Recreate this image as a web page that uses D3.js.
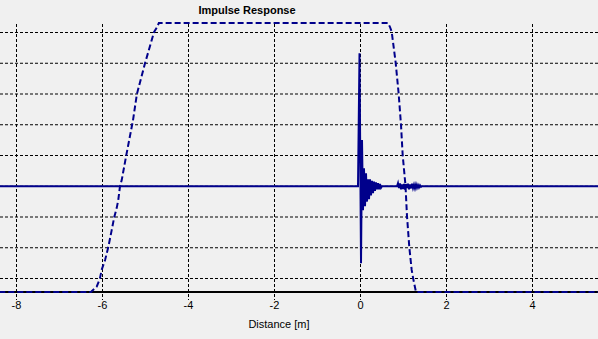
<!DOCTYPE html>
<html>
  <head>
    <meta charset="utf-8" />
    <style>
      body { margin: 0; background: #f0f0f0; }
      text { font-family: "Liberation Sans", Arial, sans-serif; }
    </style>
  </head>
  <body>

<svg id="graph"></svg>

<script src="https://d3js.org/d3.v7.min.js"></script>
<script>
const WIDTH = 598
const HEIGHT = 339

// x ticks (distance in m)
const X_TICKS = [-8, -6, -4, -2, 0, 2, 4]
// amplitude grid lines
const Y_TICKS = [-0.6, -0.4, -0.2, 0, 0.2, 0.4, 0.6, 0.8, 1.0]

// window curve (dashed), distance [m] and gain 0..1
const WIN_DIST = [-8.4, -6.27, -6.135, -6.06, -6.02, -5.94, -5.865, -5.786, -5.726, -5.67, -5.633, -5.593,
  -5.553, -5.45, -5.29, -5.2, -5.01, -4.8, -4.73, -4.69,
  0.64, 0.686, 0.726, 0.819, 0.888, 0.942, 0.981, 1.047, 1.081, 1.135, 1.19, 1.228, 1.29, 5.6]
const WIN_GAIN = [0, 0, 0.02, 0.05, 0.082, 0.119, 0.167, 0.23, 0.279, 0.312, 0.342, 0.394,
  0.416, 0.506, 0.639, 0.736, 0.851, 0.967, 0.985, 1,
  1, 0.985, 0.967, 0.851, 0.736, 0.621, 0.509, 0.394, 0.283, 0.167, 0.082, 0.048, 0, 0]

// impulse response samples
const IR_DIST = [-8.4, -0.058, -0.023, 0.012, 0.035, 0.058, 0.081, 0.105, 0.128, 0.151, 0.174, 0.198,
  0.221, 0.244, 0.267, 0.291, 0.314, 0.337, 0.36, 0.384, 0.407, 0.43, 0.453, 0.477, 0.5,
  0.849, 0.872, 0.895, 0.919, 0.942, 0.965, 0.988, 1.012, 1.035, 1.058, 1.081, 1.105, 1.128,
  1.151, 1.174, 1.198, 1.221, 1.244, 1.267, 1.291, 1.314, 1.337, 1.36, 1.384, 1.407, 1.43, 5.6]
const IR_AMP = [0, 0, 0.865, -0.5, 0.3, -0.156, 0.117, -0.13, 0.085, -0.1, 0.045, -0.085,
  0.045, -0.06, 0.035, -0.045, 0.03, -0.03, 0.025, -0.02, 0.02, -0.02, 0.015, -0.01, 0,
  0, 0.02, -0.012, 0.018, -0.02, 0.012, -0.018, 0.015, -0.022, 0.014, -0.012, 0.016, -0.02,
  0.012, -0.014, 0.016, -0.012, 0.01, -0.014, 0.012, -0.01, 0.008, -0.008, 0.006, -0.004, 0, 0]

const BLUE = '#00008b'

const svg = d3.select('#graph')
  .attr('width', WIDTH)
  .attr('height', HEIGHT)
  .style('display', 'block')

svg.append('rect')
  .attr('width', WIDTH)
  .attr('height', HEIGHT)
  .attr('fill', '#f0f0f0')

const xScale = d3.scaleLinear()
  .domain([-8, 4])
  .range([16.5, 532.5])

// amplitude of the impulse response
const yScale = d3.scaleLinear()
  .domain([-0.6, 1.0])
  .range([278.5, 32.5])

// gain of the window
const wScale = d3.scaleLinear()
  .domain([0, 1])
  .range([292, 23])

// grid
const grid = svg.append('g')
  .attr('stroke', '#000')
  .attr('stroke-width', 1)
  .attr('stroke-dasharray', '3,2')

grid.selectAll('line.v')
  .data(X_TICKS)
  .enter()
    .append('line')
    .attr('class', 'v')
    .attr('x1', d => xScale(d))
    .attr('x2', d => xScale(d))
    .attr('y1', 24)
    .attr('y2', 300)

grid.selectAll('line.h')
  .data(Y_TICKS)
  .enter()
    .append('line')
    .attr('class', 'h')
    .attr('x1', 0)
    .attr('x2', WIDTH)
    .attr('y1', d => yScale(d))
    .attr('y2', d => yScale(d))

// x axis line
svg.append('line')
  .attr('x1', 0)
  .attr('x2', WIDTH)
  .attr('y1', wScale(0))
  .attr('y2', wScale(0))
  .attr('stroke', '#000')
  .attr('stroke-width', 2)

// tick labels
svg.append('g')
  .selectAll('text')
  .data(X_TICKS)
  .enter()
    .append('text')
    .attr('x', d => xScale(d))
    .attr('y', 309)
    .attr('text-anchor', 'middle')
    .attr('font-size', 11)
    .attr('fill', '#000')
    .text(d => d)

// impulse response
const irLine = d3.line()
  .x(d => xScale(d[0]))
  .y(d => yScale(d[1]))

svg.append('path')
  .datum(d3.zip(IR_DIST, IR_AMP))
  .attr('d', irLine)
  .attr('fill', 'none')
  .attr('stroke', BLUE)
  .attr('stroke-width', 2)

// window
const winLine = d3.line()
  .x(d => xScale(d[0]))
  .y(d => wScale(d[1]))

svg.append('path')
  .datum(d3.zip(WIN_DIST, WIN_GAIN))
  .attr('d', winLine)
  .attr('fill', 'none')
  .attr('stroke', BLUE)
  .attr('stroke-width', 2)
  .attr('stroke-dasharray', '6,3')

// titles
svg.append('text')
  .attr('x', 247)
  .attr('y', 14)
  .attr('text-anchor', 'middle')
  .attr('font-size', 11)
  .attr('font-weight', 'bold')
  .text('Impulse Response')

svg.append('text')
  .attr('x', 279)
  .attr('y', 328)
  .attr('text-anchor', 'middle')
  .attr('font-size', 11)
  .text('Distance [m]')
</script>
  </body>
</html>
